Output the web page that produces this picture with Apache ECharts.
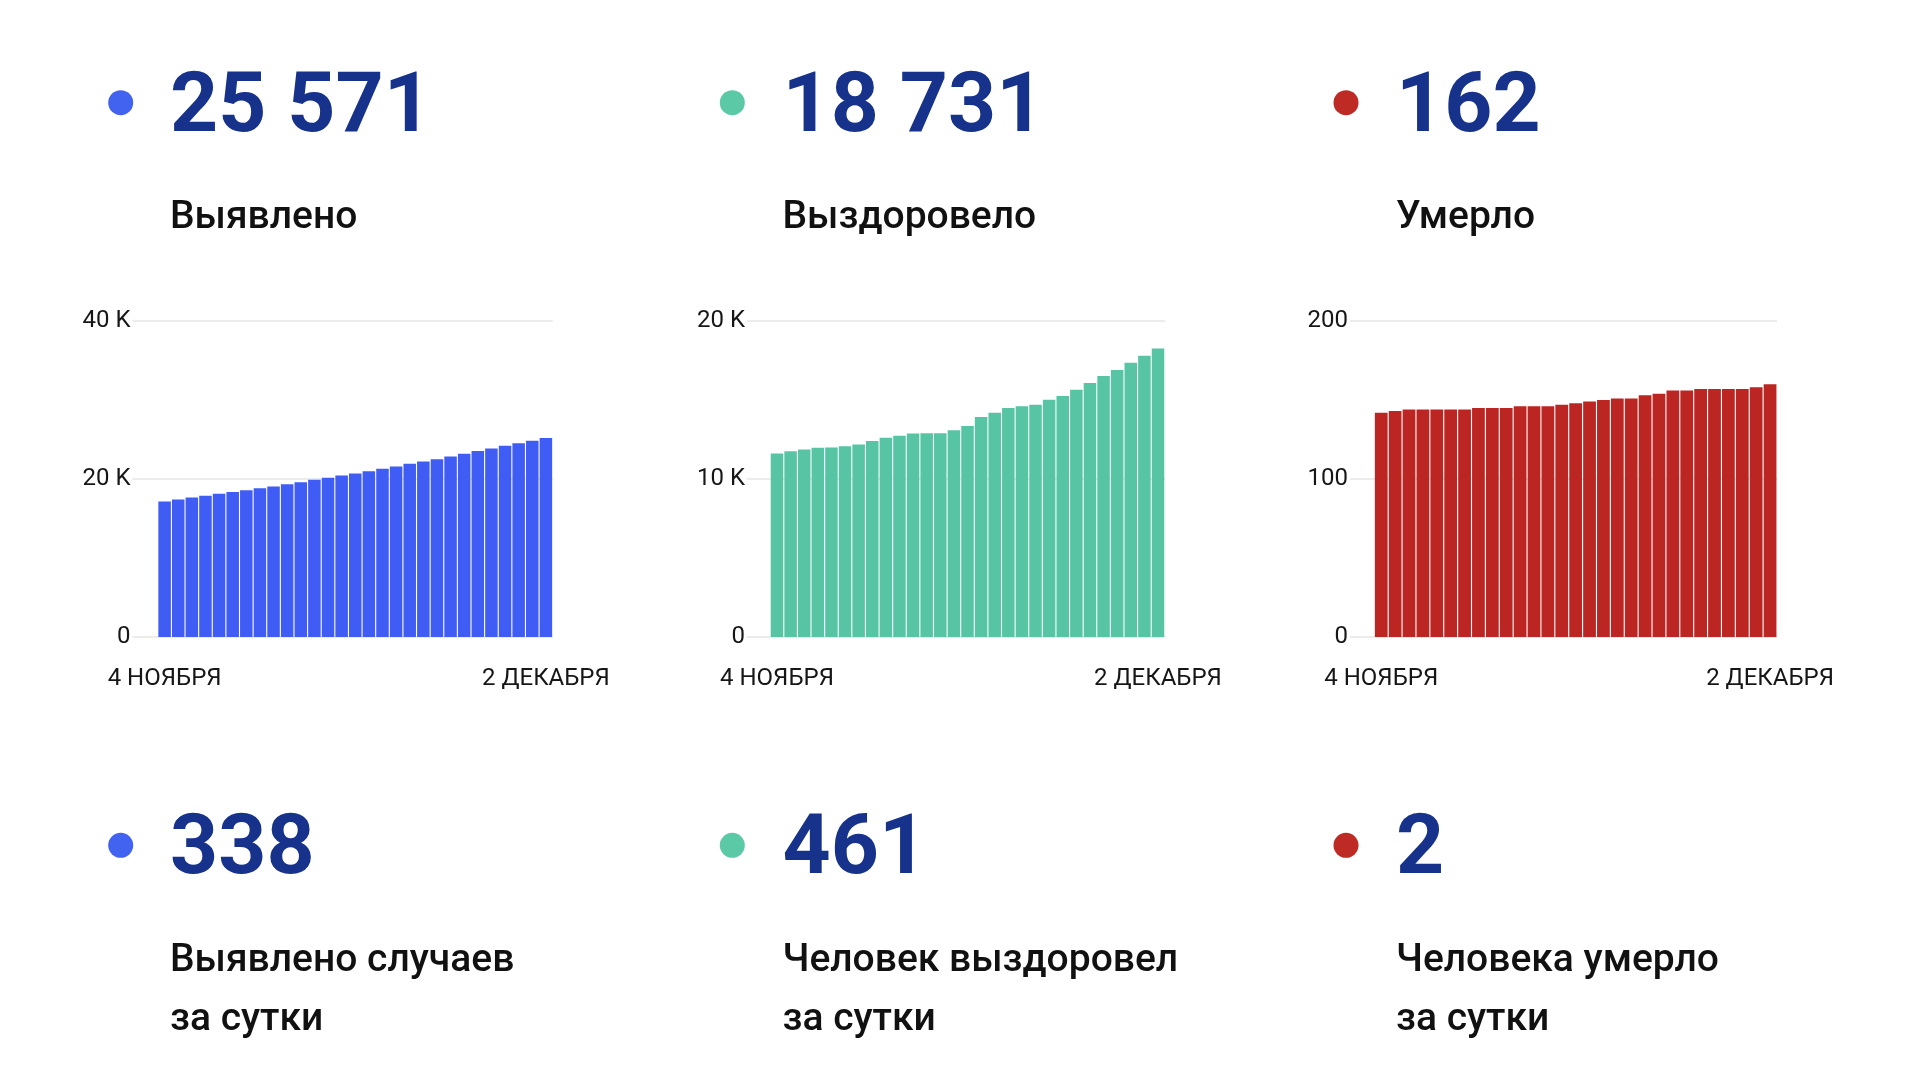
<!DOCTYPE html>
<html>
<head>
<meta charset="utf-8">
<script src="https://cdn.jsdelivr.net/npm/echarts@6/dist/echarts.min.js"></script>
<style>
html,body{margin:0;padding:0;background:#fff;}
#main{width:1920px;height:1080px;}
</style>
</head>
<body>
<div id="main"></div>
<script>
// ---- data ----
const dates = ['4 ноября','5 ноября','6 ноября','7 ноября','8 ноября','9 ноября','10 ноября','11 ноября','12 ноября','13 ноября','14 ноября','15 ноября','16 ноября','17 ноября','18 ноября','19 ноября','20 ноября','21 ноября','22 ноября','23 ноября','24 ноября','25 ноября','26 ноября','27 ноября','28 ноября','29 ноября','30 ноября','1 декабря','2 декабря'];
const firstLabel = '4 НОЯБРЯ';
const lastLabel = '2 ДЕКАБРЯ';

const detected = [17150,17400,17660,17870,18120,18370,18580,18840,19050,19350,19600,19890,20150,20440,20700,20990,21290,21580,21920,22220,22510,22850,23190,23530,23860,24200,24540,24840,25180];
const recovered = [11620,11760,11870,11970,12000,12080,12190,12400,12610,12730,12880,12900,12900,13090,13350,13920,14190,14490,14610,14700,15020,15250,15650,16070,16520,16900,17360,17800,18260];
const deaths = [142,143,144,144,144,144,144,145,145,145,146,146,146,147,148,149,150,151,151,153,154,156,156,157,157,157,157,158,160];

const totalNumbers = ['25 571','18 731','162'];
const totalLabels = ['Выявлено','Выздоровело','Умерло'];
const dailyNumbers = ['338','461','2'];
const dailyLabels = [['Выявлено случаев','за сутки'],['Человек выздоровел','за сутки'],['Человека умерло','за сутки']];

const yMax = [40000, 20000, 200];
const yStep = [20000, 10000, 100];

// ---- styles ----
const barColors = ['#3f5df4','#57c5a4','#bb2622'];
const dotColors = ['#4262f0','#5bc8a6','#be2a24'];
const numColor = '#16328a';
const FONT = 'Roboto';

const lineGrids = [
  {left:132.5, right:552.7},
  {left:747, right:1165},
  {left:1350, right:1777}
];
const barGrids = [
  {left:157.8, right:552.7},
  {left:770.2, right:1164.8},
  {left:1374.3, right:1777}
];
const gridTop = 321, gridHeight = 316;
const dotX = [120.7, 732.3, 1346];
const textX = [170, 782.5, 1396];

function fmtK(v, i){
  if (v === 0) return '0';
  if (i < 2) return (v/1000) + ' K';
  return String(v);
}

const grid = [], xAxis = [], yAxis = [], series = [];
const allData = [detected, recovered, deaths];
for (let i=0;i<3;i++){
  grid.push({left:lineGrids[i].left, width:lineGrids[i].right-lineGrids[i].left, top:gridTop, height:gridHeight});
  xAxis.push({type:'category', gridIndex:2*i, data:dates, show:false});
  yAxis.push({type:'value', gridIndex:2*i, min:0, max:yMax[i], interval:yStep[i],
    axisLine:{show:false}, axisTick:{show:false},
    splitLine:{show:true, lineStyle:{color:'#ececec', width:2}},
    axisLabel:{margin:2, color:'#161616', fontSize:24, fontFamily:FONT, formatter:(v)=>fmtK(v,i)}
  });
  grid.push({left:barGrids[i].left, width:barGrids[i].right-barGrids[i].left, top:gridTop, height:gridHeight});
  xAxis.push({type:'category', gridIndex:2*i+1, data:dates,
    axisLine:{show:false}, axisTick:{show:false},
    axisLabel:{
      interval:0, margin:30, color:'#161616', fontSize:24, fontFamily:FONT,
      formatter:(v, idx)=> idx===0 ? firstLabel : (idx===dates.length-1 ? lastLabel : '')
    }
  });
  yAxis.push({type:'value', gridIndex:2*i+1, min:0, max:yMax[i], interval:yStep[i], show:false, splitLine:{show:false}});
  series.push({type:'bar', xAxisIndex:2*i+1, yAxisIndex:2*i+1, data:allData[i],
    barCategoryGap:'8%', itemStyle:{color:barColors[i]}, silent:true});
}

const graphic = [];
for (let i=0;i<3;i++){
  graphic.push({type:'circle', shape:{cx:dotX[i], cy:102.7, r:12.5}, style:{fill:dotColors[i]}});
  graphic.push({type:'text', x:textX[i], y:110, style:{text:totalNumbers[i], fill:numColor, font:'700 84px Roboto', verticalAlign:'middle', align:'left'}});
  graphic.push({type:'text', x:textX[i], y:218, style:{text:totalLabels[i], fill:'#111', font:'500 39px Roboto', verticalAlign:'middle', align:'left'}});

  graphic.push({type:'circle', shape:{cx:dotX[i], cy:845.3, r:12.5}, style:{fill:dotColors[i]}});
  graphic.push({type:'text', x:textX[i], y:852, style:{text:dailyNumbers[i], fill:numColor, font:'700 84px Roboto', verticalAlign:'middle', align:'left'}});
  graphic.push({type:'text', x:textX[i], y:961, style:{text:dailyLabels[i][0], fill:'#111', font:'500 39px Roboto', verticalAlign:'middle', align:'left'}});
  graphic.push({type:'text', x:textX[i], y:1020, style:{text:dailyLabels[i][1], fill:'#111', font:'500 39px Roboto', verticalAlign:'middle', align:'left'}});
}

const chart = echarts.init(document.getElementById('main'), null, {renderer:'canvas'});
chart.setOption({
  animation:false,
  backgroundColor:'#fff',
  grid, xAxis, yAxis, series, graphic
});
</script>
</body>
</html>
